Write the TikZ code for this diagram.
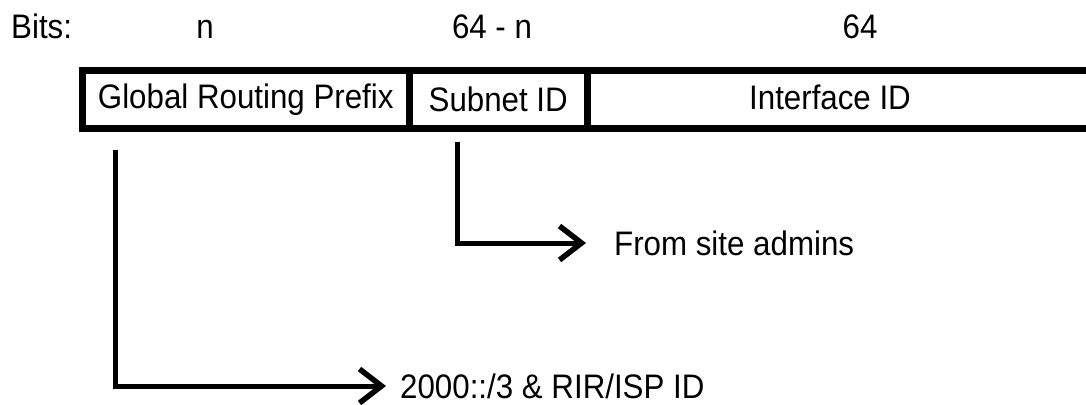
\documentclass[tikz,border=0pt]{standalone}
\usepackage{fontspec}
\setmainfont[FakeStretch=0.92]{Liberation Sans}
\usetikzlibrary{arrows.meta,calc}
\begin{document}
\begin{tikzpicture}[x=1pt,y=1pt,
  field/.style={draw=black, line width=6.5pt, minimum height=58pt, inner sep=0pt,
    anchor=north west, font=\fontsize{34}{34}\selectfont},
  lbl/.style={inner sep=0pt, font=\fontsize{34}{34}\selectfont},
  lead/.style={line width=5pt, -{Straight Barb[length=22pt,width=34pt,line width=5.5pt]}}]
\useasboundingbox (0,0) rectangle (1086,-404);
\begin{scope}
\clip (0,0) rectangle (1086,-404);
% address fields; the last one runs on past the right edge
\node[field, minimum width=327pt] (gr) at (79,-67) {Global Routing Prefix};
\node[field, minimum width=178pt] (sn) at (406,-67) {Subnet ID};
\node[field, minimum width=520pt] (iid) at (584,-67) {};
\end{scope}
\node[lbl] (iidtext) at (830,-97) {Interface ID};
% bit counts
\node[lbl, anchor=base west] (bits) at (11,-39) {Bits:};
\node[lbl, anchor=base] (bn) at (205,-39) {n};
\node[lbl, anchor=base] (bsn) at (492,-39) {64 - n};
\node[lbl, anchor=base] (biid) at (860,-39) {64};
% origins
\node[lbl, anchor=west] (admins) at (614,-243) {From site admins};
\node[lbl, anchor=west] (rir) at (400,-386) {2000::/3 \& RIR/ISP ID};
\coordinate (s1) at ($(gr.south west)+(36,-18)$);
\coordinate (s2) at ($(sn.south west)+(51,-10)$);
\draw[lead] (s2) |- ($(admins.west)+(-28,0)$);
\draw[lead] (s1) |- ($(rir.west)+(-14,0)$);
\end{tikzpicture}
\end{document}
